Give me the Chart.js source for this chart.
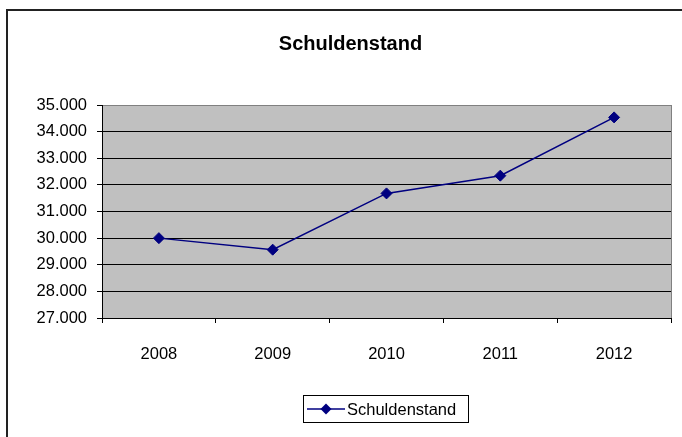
<!DOCTYPE html>
<html>
<head>
<meta charset="utf-8">
<script src="https://cdn.jsdelivr.net/npm/chart.js@4/dist/chart.umd.min.js"></script>
<style>
  html, body { margin: 0; padding: 0; background: #fff; }
  #wrap { position: relative; width: 682px; height: 437px; }
</style>
</head>
<body>
<div id="wrap"><canvas id="c" width="682" height="437"></canvas></div>
<script>
const chartTitle = "Schuldenstand";
const seriesName = "Schuldenstand";
const years = ["2008", "2009", "2010", "2011", "2012"];
const debtValues = [30000, 29566, 31679, 32346, 34535];
const yMin = 27000;
const yMax = 35000;
const yStep = 1000;

const FONT = '"Liberation Sans", Arial, sans-serif';

function fmtDE(v) {
  const s = Math.round(v).toString();
  return s.replace(/\B(?=(\d{3})+(?!\d))/g, ".");
}

const decor = {
  id: 'decor',
  beforeDraw(chart) {
    const ctx = chart.ctx;
    const a = chart.chartArea;
    ctx.save();
    ctx.fillStyle = '#fff';
    ctx.fillRect(0, 0, chart.width, chart.height);
    // outer chart frame
    ctx.strokeStyle = '#222';
    ctx.lineWidth = 2;
    ctx.beginPath();
    ctx.moveTo(7, chart.height + 2);
    ctx.lineTo(7, 10);
    ctx.lineTo(chart.width + 2, 10);
    ctx.stroke();
    // plot area background
    ctx.fillStyle = '#C0C0C0';
    ctx.fillRect(a.left, a.top, a.right - a.left, a.bottom - a.top);
    ctx.restore();
  },
  afterDraw(chart) {
    const ctx = chart.ctx;
    const a = chart.chartArea;
    ctx.save();
    // right plot border (gray)
    ctx.strokeStyle = '#808080';
    ctx.lineWidth = 1;
    ctx.beginPath();
    ctx.moveTo(Math.round(a.right) + 0.5, a.top);
    ctx.lineTo(Math.round(a.right) + 0.5, a.bottom);
    ctx.stroke();
    // title
    ctx.fillStyle = '#000';
    ctx.font = 'bold 20px ' + FONT;
    ctx.textAlign = 'center';
    ctx.textBaseline = 'middle';
    ctx.fillText(chartTitle, 350.5, 44);
    // legend
    const lx = 303.5, ly = 395.5, lw = 165, lh = 27;
    ctx.strokeStyle = '#000';
    ctx.lineWidth = 1;
    ctx.strokeRect(lx, ly, lw, lh);
    const my = ly + lh / 2;
    const ds = chart.data.datasets[0];
    ctx.strokeStyle = ds.borderColor;
    ctx.lineWidth = 1.5;
    ctx.beginPath();
    ctx.moveTo(307, my);
    ctx.lineTo(345, my);
    ctx.stroke();
    ctx.fillStyle = ds.pointBackgroundColor;
    ctx.beginPath();
    ctx.moveTo(326, my - 5.5);
    ctx.lineTo(331.5, my);
    ctx.lineTo(326, my + 5.5);
    ctx.lineTo(320.5, my);
    ctx.closePath();
    ctx.fill();
    ctx.fillStyle = '#000';
    ctx.font = '16.5px ' + FONT;
    ctx.textAlign = 'left';
    ctx.textBaseline = 'middle';
    ctx.fillText(ds.label, 347, my + 1);
    ctx.restore();
  }
};

new Chart(document.getElementById('c'), {
  type: 'line',
  data: {
    labels: years,
    datasets: [{
      label: seriesName,
      data: debtValues,
      borderColor: '#000080',
      backgroundColor: '#000080',
      borderWidth: 1.5,
      pointStyle: 'rectRot',
      pointRadius: 5.5,
      pointBorderWidth: 1,
      pointBackgroundColor: '#000080',
      pointBorderColor: '#000080',
      tension: 0,
      fill: false
    }]
  },
  plugins: [decor],
  options: {
    responsive: false,
    animation: false,
    devicePixelRatio: 1,
    layout: { padding: { left: 0, top: 105, right: 11, bottom: 0 } },
    plugins: {
      legend: { display: false },
      title: { display: false },
      tooltip: { enabled: false }
    },
    scales: {
      x: {
        type: 'category',
        offset: true,
        afterFit(scale) { scale.height = 119; },
        grid: {
          offset: true,
          drawOnChartArea: false,
          drawTicks: true,
          tickLength: 5,
          color: '#000',
          lineWidth: 1
        },
        border: { display: true, color: '#000', width: 1 },
        ticks: {
          color: '#000',
          font: { family: FONT, size: 16.5 },
          padding: 22,
          maxRotation: 0,
          autoSkip: false
        }
      },
      y: {
        min: yMin,
        max: yMax,
        afterFit(scale) { scale.width = 102; },
        grid: {
          color: (c) => (c.tick && c.tick.value === yMax ? '#808080' : '#000'),
          lineWidth: 1,
          drawTicks: true,
          tickLength: 5,
          tickColor: '#000'
        },
        border: { display: true, color: '#000', width: 1 },
        ticks: {
          stepSize: yStep,
          color: '#000',
          font: { family: FONT, size: 16.5 },
          padding: 10,
          callback: (v) => fmtDE(v)
        }
      }
    }
  }
});
</script>
</body>
</html>
